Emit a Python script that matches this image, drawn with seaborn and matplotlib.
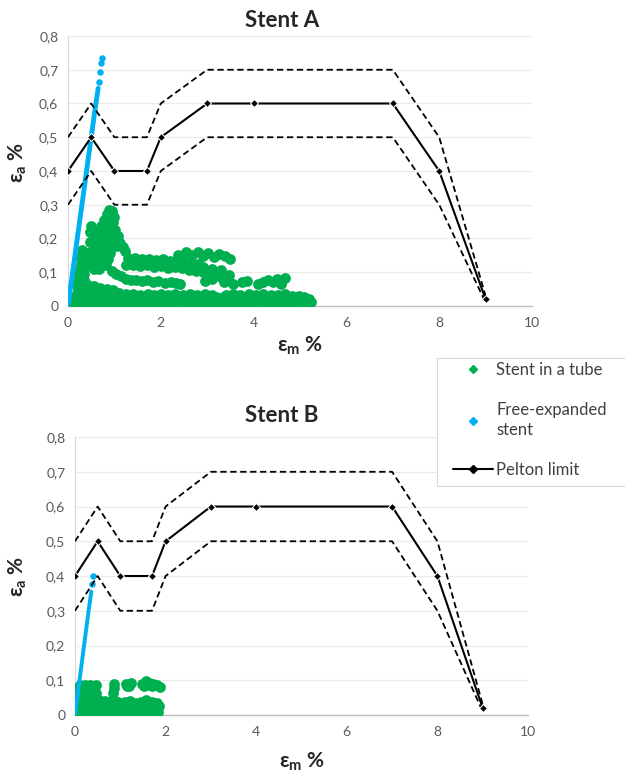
import pandas as pd
import seaborn as sns
import matplotlib.pyplot as plt
from matplotlib.lines import Line2D
from matplotlib.patches import Rectangle

# ---- data ----
pelton_x = [0, 0.5, 1, 1.7, 2, 3, 4, 7, 8, 9]
pelton_y = [0.4, 0.5, 0.4, 0.4, 0.5, 0.6, 0.6, 0.6, 0.4, 0.02]
pelton_hi = [0.5, 0.6, 0.5, 0.5, 0.6, 0.7, 0.7, 0.7, 0.5, 0.03]
pelton_lo = [0.3, 0.4, 0.3, 0.3, 0.4, 0.5, 0.5, 0.5, 0.3, 0.01]

x_ticks = [0, 2, 4, 6, 8, 10]
y_ticks = [0, 0.1, 0.2, 0.3, 0.4, 0.5, 0.6, 0.7, 0.8]
y_tick_labels = ['0', '0,1', '0,2', '0,3', '0,4', '0,5', '0,6', '0,7', '0,8']

# Stent A - stent in a tube (green cloud)
a_base_row1 = [(0.10, 0.010), (0.24, 0.012), (0.38, 0.009), (0.52, 0.011), (0.66, 0.010), (0.80, 0.013),
               (0.95, 0.009), (1.10, 0.011), (1.24, 0.010), (1.38, 0.012), (1.53, 0.009), (1.67, 0.011),
               (1.82, 0.010), (1.96, 0.013), (2.11, 0.010), (2.25, 0.009), (2.40, 0.012), (2.54, 0.010),
               (2.69, 0.011), (2.83, 0.009), (2.98, 0.012), (3.12, 0.010), (3.27, 0.011), (3.41, 0.009),
               (3.56, 0.012), (3.70, 0.010), (3.85, 0.011), (3.99, 0.010), (4.14, 0.012), (4.28, 0.009),
               (4.43, 0.011), (4.57, 0.010), (4.72, 0.012), (4.86, 0.010), (5.01, 0.011), (5.15, 0.013),
               (5.24, 0.012)]
a_base_row2 = [(0.16, 0.030), (0.30, 0.028), (0.45, 0.031), (0.59, 0.027), (0.73, 0.029), (0.88, 0.032),
               (1.02, 0.028), (1.17, 0.030), (1.31, 0.027), (1.45, 0.029), (1.60, 0.027), (1.74, 0.028),
               (1.89, 0.029), (2.03, 0.026), (2.18, 0.029), (2.32, 0.027), (2.47, 0.028), (2.61, 0.029),
               (2.76, 0.026), (2.90, 0.028), (3.05, 0.029), (3.19, 0.027), (3.34, 0.028), (3.48, 0.026),
               (3.63, 0.028), (3.77, 0.027), (3.92, 0.029), (4.06, 0.026), (4.21, 0.028), (4.35, 0.027),
               (4.50, 0.028), (4.64, 0.029), (4.79, 0.026), (4.93, 0.028), (5.08, 0.026), (5.19, 0.022)]
a_base_row3 = [(0.22, 0.046), (0.36, 0.048), (0.50, 0.048), (0.65, 0.046), (0.80, 0.043), (0.95, 0.040),
               (1.10, 0.038), (1.25, 0.035), (1.40, 0.036), (1.55, 0.034), (1.72, 0.036), (1.85, 0.033),
               (2.00, 0.035), (2.15, 0.033), (2.30, 0.035), (2.48, 0.033), (2.62, 0.036), (2.78, 0.034),
               (2.95, 0.035), (3.10, 0.032), (3.40, 0.033), (3.55, 0.036), (3.70, 0.032), (3.90, 0.035),
               (4.05, 0.033), (4.20, 0.036), (4.38, 0.032), (4.52, 0.034), (4.68, 0.035), (4.82, 0.031),
               (4.98, 0.030)]
a_triangle = [(0.20, 0.062), (0.32, 0.064), (0.44, 0.062), (0.56, 0.058), (0.22, 0.078), (0.34, 0.078),
              (0.24, 0.094), (0.35, 0.094), (0.26, 0.110), (0.35, 0.110), (0.28, 0.125), (0.35, 0.125),
              (0.29, 0.140), (0.34, 0.140), (0.30, 0.153), (0.33, 0.153), (0.31, 0.165),
              (0.70, 0.054), (0.84, 0.050), (0.98, 0.046)]
a_wing = [(0.50, 0.236), (0.48, 0.218), (0.55, 0.205), (0.47, 0.190), (0.57, 0.180), (0.48, 0.160),
          (0.58, 0.160), (0.50, 0.140), (0.60, 0.140), (0.52, 0.122), (0.62, 0.122), (0.56, 0.110),
          (0.66, 0.110), (0.58, 0.220), (0.61, 0.200),
          (0.88, 0.285), (0.95, 0.280), (0.83, 0.272), (0.92, 0.266), (1.00, 0.265), (0.78, 0.255),
          (0.87, 0.248), (0.97, 0.250), (0.72, 0.238), (0.82, 0.232), (0.90, 0.228), (0.68, 0.220),
          (0.77, 0.213), (0.86, 0.208), (0.95, 0.212), (0.70, 0.198), (0.80, 0.193), (0.90, 0.188),
          (0.66, 0.180), (0.75, 0.175), (0.85, 0.170), (0.70, 0.160), (0.80, 0.155), (0.90, 0.158),
          (0.68, 0.140), (0.77, 0.137), (0.87, 0.140), (0.72, 0.122), (0.82, 0.120),
          (1.02, 0.225), (1.08, 0.206), (1.13, 0.188), (1.18, 0.174), (1.23, 0.162), (1.00, 0.198),
          (1.05, 0.178)]
a_mid_low = [(0.94, 0.104), (1.04, 0.095), (1.14, 0.088), (1.24, 0.081), (1.35, 0.076), (1.47, 0.078),
             (1.59, 0.073), (1.71, 0.076), (1.83, 0.071), (1.95, 0.073), (2.08, 0.069), (2.21, 0.071),
             (2.33, 0.067), (2.42, 0.065)]
a_mid_up = [(1.30, 0.143), (1.45, 0.141), (1.60, 0.139), (1.75, 0.140), (1.90, 0.136), (2.05, 0.138),
            (2.20, 0.134), (2.35, 0.135), (2.50, 0.131), (2.65, 0.127), (2.80, 0.124),
            (1.25, 0.121), (1.40, 0.122), (1.55, 0.118), (1.70, 0.120), (1.85, 0.116), (2.00, 0.118),
            (2.15, 0.114), (2.30, 0.116), (2.45, 0.112), (2.60, 0.108), (2.75, 0.105), (2.90, 0.102),
            (3.05, 0.100), (3.20, 0.097), (3.35, 0.094), (3.47, 0.092), (2.92, 0.116), (3.10, 0.111),
            (3.30, 0.106)]
a_sparse_up = [(2.38, 0.152), (2.55, 0.160), (2.68, 0.152), (2.80, 0.161), (2.92, 0.149), (3.02, 0.156),
               (3.15, 0.146), (3.25, 0.153), (3.38, 0.147), (3.50, 0.140)]
a_sparse_low = [(2.95, 0.075), (3.10, 0.080), (3.30, 0.085), (3.36, 0.070), (3.44, 0.078), (3.56, 0.066),
                (3.76, 0.070), (3.86, 0.075), (4.10, 0.066), (4.20, 0.072), (4.30, 0.078), (4.42, 0.070),
                (4.50, 0.080), (4.60, 0.075), (4.58, 0.066), (4.68, 0.083)]

# Stent A - free-expanded stent (blue)
a_free_line_x = [0.0, 0.10, 0.20, 0.30, 0.40, 0.50, 0.58, 0.65]
a_free_line_y = [0.0, 0.10, 0.20, 0.30, 0.40, 0.50, 0.58, 0.645]
a_free_dots_x = [0.67, 0.69, 0.71, 0.726]
a_free_dots_y = [0.665, 0.694, 0.719, 0.734]

# Stent B - stent in a tube (green cloud)
b_rows = [(0.06, 0.010), (0.18, 0.010), (0.30, 0.011), (0.42, 0.009), (0.54, 0.010), (0.66, 0.011),
          (0.78, 0.010), (0.90, 0.009), (1.02, 0.011), (1.14, 0.010), (1.26, 0.010), (1.38, 0.011),
          (1.50, 0.009), (1.62, 0.010), (1.74, 0.011), (1.84, 0.010),
          (0.10, 0.028), (0.22, 0.029), (0.34, 0.027), (0.46, 0.028), (0.58, 0.030), (0.70, 0.027),
          (0.82, 0.028), (0.94, 0.029), (1.06, 0.027), (1.18, 0.028), (1.30, 0.030), (1.42, 0.027),
          (1.54, 0.028), (1.66, 0.029), (1.78, 0.027), (1.85, 0.025),
          (0.06, 0.045), (0.18, 0.046), (0.30, 0.044), (0.42, 0.046), (0.54, 0.044), (0.66, 0.040),
          (0.84, 0.045), (0.96, 0.036), (1.10, 0.036), (1.22, 0.040), (1.34, 0.035), (1.46, 0.038),
          (1.56, 0.042), (1.70, 0.037), (1.80, 0.035),
          (0.10, 0.062), (0.22, 0.063), (0.34, 0.061), (0.46, 0.062), (0.84, 0.062),
          (0.06, 0.077), (0.18, 0.076), (0.30, 0.078), (0.42, 0.075), (0.85, 0.077),
          (0.10, 0.086), (0.22, 0.087), (0.34, 0.085), (0.46, 0.086), (0.86, 0.088)]
b_blobs = [(1.13, 0.090), (1.20, 0.084), (1.24, 0.091), (1.14, 0.084),
           (1.48, 0.090), (1.56, 0.097), (1.64, 0.093), (1.72, 0.089), (1.80, 0.085), (1.87, 0.080),
           (1.52, 0.084), (1.60, 0.086), (1.70, 0.083)]

# Stent B - free-expanded stent (blue)
b_free_line_x = [0.0, 0.10, 0.20, 0.30, 0.36]
b_free_line_y = [0.0, 0.10, 0.20, 0.30, 0.355]
b_free_dots_x = [0.38, 0.40]
b_free_dots_y = [0.378, 0.400]

GREEN = '#00b050'
BLUE = '#00b0f0'
TICK_C = '#595959'

sns.set_style('white')
plt.rcParams['font.family'] = ['Lato', 'DejaVu Sans']
plt.rcParams['mathtext.default'] = 'regular'


def cloud(*groups):
    pts = [p for g in groups for p in g]
    return pd.DataFrame(pts, columns=['x', 'y'])


def draw_panel(ax, tube, line_x, line_y, dots_x, dots_y, line_w):
    sns.scatterplot(data=tube, x='x', y='y', color=GREEN, s=60, linewidth=0,
                    ax=ax, legend=False, zorder=3)
    sns.lineplot(x=line_x, y=line_y, color=BLUE, lw=line_w, ax=ax, sort=False,
                 estimator=None, zorder=4, solid_capstyle='round')
    sns.scatterplot(x=dots_x, y=dots_y, color=BLUE, s=22, linewidth=0, ax=ax,
                    legend=False, zorder=4)
    for yy in (pelton_hi, pelton_lo):
        sns.lineplot(x=pelton_x, y=yy, color='black', lw=1.3, ls=(0, (3.5, 2)),
                     ax=ax, sort=False, estimator=None, zorder=5)
    sns.lineplot(x=pelton_x, y=pelton_y, color='black', lw=1.5, marker='D',
                 markersize=4, ax=ax, sort=False, estimator=None, zorder=6)

    ax.set_xlim(0, 10)
    ax.set_ylim(0, 0.8)
    ax.set_xticks(x_ticks)
    ax.set_yticks(y_ticks)
    ax.set_yticklabels(y_tick_labels)
    ax.set_xlabel('')
    ax.set_ylabel('')
    ax.tick_params(length=0, labelsize=10, labelcolor=TICK_C)
    ax.tick_params(axis='x', pad=8)
    ax.tick_params(axis='y', pad=7)
    ax.grid(axis='y', color='#ebebeb', lw=0.8)
    ax.set_axisbelow(True)
    for side in ('top', 'right'):
        ax.spines[side].set_visible(False)
    ax.spines['left'].set_color('#d9d9d9')
    ax.spines['left'].set_linewidth(0.8)
    ax.spines['bottom'].set_color('#bfbfbf')
    ax.spines['bottom'].set_linewidth(1.0)


fig = plt.figure(figsize=(6.25, 7.76), dpi=100)
ax_a = fig.add_axes([0.1088, 0.6057, 0.7424, 0.3479])
ax_b = fig.add_axes([0.12, 0.0786, 0.7248, 0.3582])

tube_a = cloud(a_base_row1, a_base_row2, a_base_row3, a_triangle, a_wing,
               a_mid_low, a_mid_up, a_sparse_up, a_sparse_low)
tube_b = cloud(b_rows, b_blobs)

draw_panel(ax_a, tube_a, a_free_line_x, a_free_line_y, a_free_dots_x, a_free_dots_y, 3.5)
draw_panel(ax_b, tube_b, b_free_line_x, b_free_line_y, b_free_dots_x, b_free_dots_y, 2.8)

fig.text(0.451, 0.974, 'Stent A', ha='center', va='center', fontsize=16, fontweight='bold')
fig.text(0.451, 0.465, 'Stent B', ha='center', va='center', fontsize=16, fontweight='bold')
fig.text(0.48, 0.554, r'ε$_m$ %', ha='center', va='center', fontsize=15, fontweight='bold')
fig.text(0.483, 0.018, r'ε$_m$ %', ha='center', va='center', fontsize=15, fontweight='bold')
fig.text(0.028, 0.79, r'ε$_a$ %', ha='center', va='center', rotation=90, fontsize=15, fontweight='bold')
fig.text(0.029, 0.257, r'ε$_a$ %', ha='center', va='center', rotation=90, fontsize=15, fontweight='bold')

# legend box runs off the right edge, as in the original
box = Rectangle((437 / 625, 1 - 486 / 776), 0.4, (486 - 358) / 776, transform=fig.transFigure,
                facecolor='white', edgecolor='#d9d9d9', lw=0.8, zorder=2)
fig.add_artist(box)

handles = [
    Line2D([], [], ls='none', marker='D', color=GREEN, markersize=4),
    Line2D([], [], ls='none', marker='D', color=BLUE, markersize=4),
    Line2D([], [], color='black', lw=1.5, marker='D', markersize=4),
]
labels = ['Stent in a tube', 'Free-expanded\nstent', 'Pelton limit']
leg = fig.legend(handles, labels, loc='upper left', bbox_to_anchor=(453 / 625, 1 - 362 / 776),
                 frameon=False, fontsize=12, labelspacing=1.45, handlelength=2.4,
                 handletextpad=0.2, borderpad=0, borderaxespad=0)
leg.set_zorder(6)
for t in leg.get_texts():
    t.set_color('#404040')
    t.set_linespacing(1.3)

fig.savefig('out.png', dpi=100)
plt.close(fig)
